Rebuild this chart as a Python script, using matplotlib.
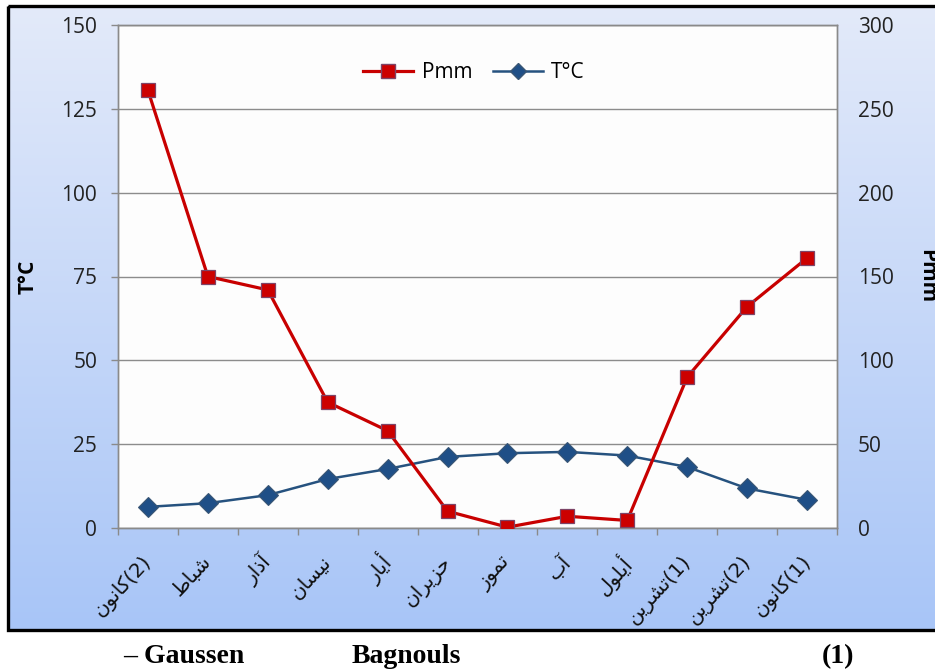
import re
import unicodedata
import numpy as np
import matplotlib
matplotlib.use("Agg")
import matplotlib.pyplot as plt
from matplotlib.lines import Line2D
from matplotlib.patches import Rectangle
from matplotlib.ticker import FixedLocator

# ---------------- data ----------------
months = ["كانون(2)", "شباط", "آذار", "نيسان", "أيار", "حزيران",
          "تموز", "آب", "أيلول", "تشرين(1)", "تشرين(2)", "كانون(1)"]
temp_c = [6.3, 7.4, 9.8, 14.6, 17.6, 21.2, 22.3, 22.7, 21.6, 18.2, 11.8, 8.4]
precip_mm = [261, 150, 142, 75, 58, 10, 0.5, 7, 4.5, 90, 132, 161]
temp_ticks = [0, 25, 50, 75, 100, 125, 150]
precip_ticks = [0, 50, 100, 150, 200, 250, 300]
caption_parts = ["– Gaussen", "Bagnouls", "(1)"]

# ---------------- minimal Arabic shaping (presentation forms) ----------------
FORMS = {}
for cp in range(0xFE80, 0xFEFD):
    d = unicodedata.decomposition(chr(cp))
    if d.startswith("<"):
        tag, rest = d.split(" ", 1)
        parts = rest.split()
        if len(parts) == 1:
            FORMS[(chr(int(parts[0], 16)), tag[1:-1])] = chr(cp)


def _is_ar(c):
    return (c, "isolated") in FORMS


def _joins_fwd(c):
    return (c, "initial") in FORMS


def shape(word):
    out = []
    n = len(word)
    for i, c in enumerate(word):
        if not _is_ar(c):
            out.append(c)
            continue
        prev = word[i - 1] if i > 0 else ""
        nxt = word[i + 1] if i < n - 1 else ""
        jp = bool(prev) and _is_ar(prev) and _joins_fwd(prev)
        jn = bool(nxt) and _is_ar(nxt) and _joins_fwd(c)
        form = "medial" if (jp and jn) else "final" if jp else "initial" if jn else "isolated"
        out.append(FORMS.get((c, form), c))
    return "".join(out)


def visual(label):
    m = re.match(r"^(.*?)(\(\d\))?$", label)
    word, suffix = m.group(1), m.group(2) or ""
    return shape(word)[::-1] + suffix


# ---------------- figure ----------------
W, H = 935, 671
fig = plt.figure(figsize=(W / 100, H / 100), dpi=100)
fig.patch.set_facecolor("white")

# background gradient chart area + border
bg = fig.add_axes([0, 0, 1, 1], zorder=-10)
bg.set_xlim(0, W)
bg.set_ylim(H, 0)
bg.axis("off")
top_col = np.array([0xE3, 0xEA, 0xFA]) / 255
bot_col = np.array([0xA8, 0xC5, 0xF7]) / 255
t = np.linspace(0, 1, 256)[:, None]
grad = (top_col[None, :] * (1 - t) + bot_col[None, :] * t)[:, None, :]
bg.imshow(grad, extent=(8, W + 10, 630, 6), aspect="auto", interpolation="bicubic")
bg.add_patch(Rectangle((8, 6), W + 10, 624, fill=False, lw=2.4, ec="black"))

L, R, T, B = 118, 837, 25, 528
ax = fig.add_axes([L / W, 1 - B / H, (R - L) / W, (B - T) / H])
ax.set_facecolor("#fdfdfd")
ax2 = ax.twinx()

x = np.arange(len(months))
tick_font = "Open Sans"
tick_size = 15
blue = "#26527f"
red = "#c80000"

ax.plot(x, temp_c, color=blue, lw=1.8, marker="D", ms=10,
        mfc="#1f4f87", mec="#3a5674", mew=0.8, zorder=3)
ax2.plot(x, precip_mm, color=red, lw=2.3, marker="s", ms=9.5,
         mfc="#cc0000", mec="#7d4467", mew=0.9, zorder=3)

ax.set_xlim(-0.5, len(months) - 0.5)
ax.set_ylim(0, 150)
ax2.set_ylim(0, 300)
ax.set_yticks(temp_ticks)
ax2.set_yticks(precip_ticks)
ax.grid(axis="y", color="#8c8c8c", lw=1.0)
ax.set_axisbelow(True)

for a in (ax, ax2):
    for s in a.spines.values():
        s.set_color("#8a8a8a")
        s.set_linewidth(1.0)

ax.tick_params(axis="y", direction="out", length=5, width=1, color="#8a8a8a",
               pad=10, labelsize=tick_size, labelcolor="#222222")
ax2.tick_params(axis="y", length=0, pad=15, labelsize=tick_size, labelcolor="#222222")
for lab in ax.get_yticklabels() + ax2.get_yticklabels():
    lab.set_fontfamily(tick_font)

ax.set_xticks(x)
ax.set_xticklabels([visual(m) for m in months], rotation=47, ha="right",
                   va="center", rotation_mode="anchor",
                   fontfamily="DejaVu Sans", fontsize=14.5, color="#111111")
ax.tick_params(axis="x", which="major", length=0, pad=22)
ax.xaxis.set_minor_locator(FixedLocator(np.arange(-0.5, len(months), 1.0)))
ax.tick_params(axis="x", which="minor", direction="out", length=5, width=1,
               color="#8a8a8a")

ax.set_ylabel("T°C", fontfamily=tick_font, fontweight="bold", fontsize=15, va="center")
ax.yaxis.set_label_coords((28 - L) / (R - L), 0.5)
ax2.set_ylabel("Pmm", fontfamily=tick_font, fontweight="bold", fontsize=15,
               rotation=-90, va="center")
ax2.yaxis.set_label_coords((927 - L) / (R - L), 0.5)

handles = [
    Line2D([], [], color=red, lw=2.3, marker="s", ms=9.5, mfc="#cc0000", mec="#7d4467"),
    Line2D([], [], color=blue, lw=1.8, marker="D", ms=8, mfc="#1f4f87", mec="#3a5674"),
]
ax2.legend(handles, ["Pmm", "T°C"], loc="center",
           bbox_to_anchor=((474 - L) / (R - L), (B - 73) / (B - T)),
           ncol=2, frameon=False, handlelength=2.4, handletextpad=0.4,
           columnspacing=1.0, prop={"family": tick_font, "size": 15})

# caption below the chart box
cap_x = [123, 352, 822]
for px, txt in zip(cap_x, caption_parts):
    fig.text(px / W, 1 - 663 / H, txt, fontfamily="Liberation Serif",
             fontweight="bold", fontsize=20, ha="left", va="baseline")

fig.savefig("out.png", dpi=100)
